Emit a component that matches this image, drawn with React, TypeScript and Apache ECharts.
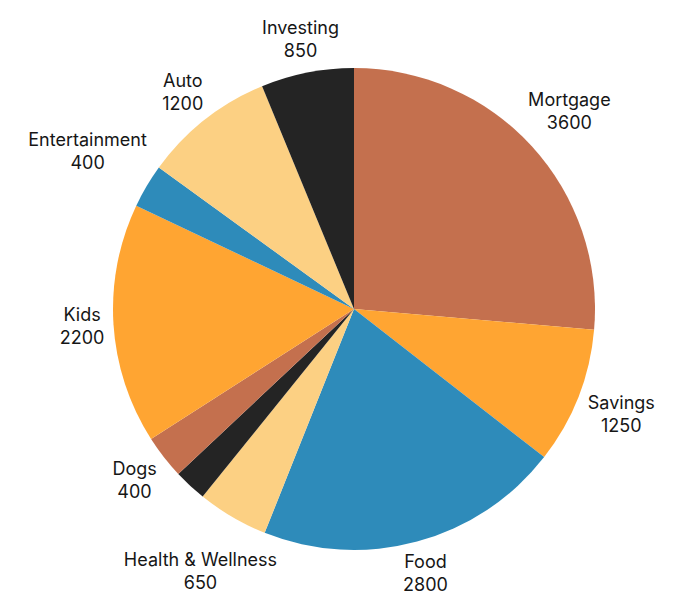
import { useEffect, useRef } from "react";
import * as echarts from "echarts";

const categories = [
  "Mortgage",
  "Savings",
  "Food",
  "Health & Wellness",
  "Other",
  "Dogs",
  "Kids",
  "Entertainment",
  "Auto",
  "Investing",
];
const amounts = [3600, 1250, 2800, 650, 300, 400, 2200, 400, 1200, 850];
// slices drawn without a caption in the original
const unlabeled = ["Other"];
const palette = ["#C4704E", "#FFA532", "#2E8BBA", "#FCD083", "#242424"];

const CENTER = [354, 309];
const RADIUS = 241;
const LABEL_GAP = 8;

export default function App() {
  const containerRef = useRef<HTMLDivElement>(null);

  useEffect(() => {
    const container = containerRef.current;
    if (!container) return;
    const chart = echarts.init(container, null, { renderer: "svg" });

    const option: echarts.EChartsOption = {
      animation: false,
      color: palette,
      series: [
        {
          type: "pie",
          center: CENTER,
          radius: RADIUS,
          startAngle: 90,
          clockwise: true,
          silent: true,
          itemStyle: { borderWidth: 0 },
          label: {
            show: true,
            position: "inside",
            formatter: "{b}\n{c}",
            color: "#161616",
            fontFamily: "Inter",
            fontSize: 18,
            lineHeight: 23,
            align: "center",
          },
          labelLine: { show: false },
          // push each caption out along its slice until it clears the rim
          labelLayout: (params: any) => {
            const r = params.labelRect;
            const lx = r.x + r.width / 2;
            const ly = r.y + r.height / 2;
            const dx = lx - CENTER[0];
            const dy = ly - CENTER[1];
            const len = Math.hypot(dx, dy) || 1;
            const ux = dx / len;
            const uy = dy / len;
            // line boxes are a bit taller than the glyphs, so trim the vertical half-size
            const d = RADIUS + LABEL_GAP + (r.width / 2) * Math.abs(ux) + (r.height / 2 - 4) * Math.abs(uy);
            return {
              x: CENTER[0] + ux * d,
              y: CENTER[1] + uy * d,
              align: "center",
              verticalAlign: "middle",
            };
          },
          data: categories.map((name, i) => ({
            name,
            value: amounts[i],
            label: unlabeled.includes(name) ? { show: false } : undefined,
          })),
        },
      ],
    };

    chart.setOption(option);

    const resizeHandler = () => chart.resize();
    window.addEventListener("resize", resizeHandler);
    return () => {
      window.removeEventListener("resize", resizeHandler);
      chart.dispose();
    };
  }, []);

  return (
    <div
      ref={containerRef}
      style={{ position: "absolute", left: 0, top: 0, width: 675, height: 606, background: "#ffffff" }}
    />
  );
}
